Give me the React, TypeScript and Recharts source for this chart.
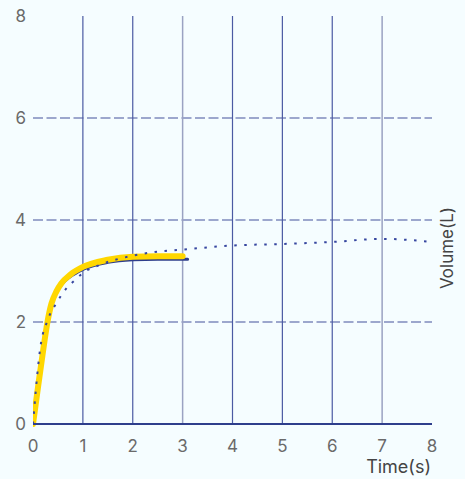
import React from "react";
import { LineChart, Line, XAxis, YAxis, ReferenceLine } from "recharts";

// time (s) values and volume (L) values
const measuredTime = [0, 0.1, 0.2, 0.29, 0.37, 0.47, 0.57, 0.75, 1, 1.5, 2, 2.5, 3];
const measuredVolume = [0, 0.72, 1.42, 2.0, 2.36, 2.6, 2.76, 2.93, 3.08, 3.22, 3.28, 3.29, 3.29];

const fittedTime = [0, 0.1, 0.2, 0.29, 0.37, 0.47, 0.57, 0.75, 1, 1.5, 2, 2.5, 3.1];
const fittedVolume = [0, 0.72, 1.42, 2.0, 2.35, 2.58, 2.73, 2.89, 3.03, 3.17, 3.22, 3.23, 3.23];

const modelTime = [0, 0.11, 0.14, 0.3, 0.47, 0.67, 0.84, 1, 1.34, 2, 2.5, 3, 4, 5, 6, 7, 8];
const modelVolume = [0, 1.2, 1.45, 2.05, 2.37, 2.66, 2.82, 2.96, 3.12, 3.3, 3.38, 3.42, 3.5, 3.53, 3.57, 3.63, 3.57];

const xTicks = [0, 1, 2, 3, 4, 5, 6, 7, 8];
const yTicks = [0, 2, 4, 6, 8];
const darkGridX = [1, 2, 4, 5, 6];
const lightGridX = [3, 7];
const dashedGridY = [2, 4, 6];

const toPoints = (xs: number[], ys: number[]) =>
  xs.map((t, i) => ({ t, v: ys[i] }));

const measured = toPoints(measuredTime, measuredVolume);
const fitted = toPoints(fittedTime, fittedVolume);
const model = toPoints(modelTime, modelVolume);

const FONT = "Inter, 'Open Sans', sans-serif";
const tickStyle = { fontSize: 17, fill: "#6a6a6a", fontFamily: FONT };

export default function App() {
  return (
    <div
      style={{
        position: "absolute",
        left: 0,
        top: 0,
        width: 465,
        height: 479,
        background: "#f5fdff",
        fontFamily: FONT,
      }}
    >
      <LineChart
        width={465}
        height={479}
        margin={{ top: 16, right: 33, bottom: 25, left: 0 }}
      >
        <XAxis
          dataKey="t"
          type="number"
          domain={[0, 8]}
          ticks={xTicks}
          allowDataOverflow
          axisLine={{ stroke: "#2e3e8c", strokeWidth: 2 }}
          tickLine={false}
          tickSize={0}
          tickMargin={16}
          height={30}
          tick={tickStyle}
          interval={0}
        />
        <YAxis
          type="number"
          domain={[0, 8]}
          ticks={yTicks}
          axisLine={false}
          tickLine={false}
          tickSize={0}
          tickMargin={7}
          width={33}
          tick={tickStyle}
          interval={0}
        />
        {dashedGridY.map((y) => (
          <ReferenceLine
            key={"h" + y}
            y={y}
            stroke="#44539c"
            strokeWidth={1.2}
            strokeDasharray="10 3.5"
          />
        ))}
        {darkGridX.map((x) => (
          <ReferenceLine key={"d" + x} x={x} stroke="#4b5aa3" strokeWidth={1.2} />
        ))}
        {lightGridX.map((x) => (
          <ReferenceLine key={"l" + x} x={x} stroke="#9aa2c2" strokeWidth={1.5} />
        ))}
        <Line
          data={fitted}
          dataKey="v"
          type="monotone"
          stroke="#2e3e8c"
          strokeWidth={3}
          strokeLinecap="round"
          dot={false}
          isAnimationActive={false}
        />
        <Line
          data={measured}
          dataKey="v"
          type="monotone"
          stroke="#ffd700"
          strokeWidth={6}
          strokeLinecap="round"
          dot={false}
          isAnimationActive={false}
        />
        <Line
          data={model}
          dataKey="v"
          type="monotone"
          stroke="#3646a0"
          strokeWidth={2}
          strokeDasharray="2.5 7.5"
          dot={false}
          isAnimationActive={false}
        />
      </LineChart>
      <div
        style={{
          position: "absolute",
          right: 34,
          top: 458,
          fontSize: 18,
          color: "#444",
          lineHeight: "18px",
        }}
      >
        Time(s)
      </div>
      <div
        style={{
          position: "absolute",
          left: 447,
          top: 248,
          fontSize: 17,
          color: "#444",
          lineHeight: "20px",
          whiteSpace: "nowrap",
          transform: "translate(-50%, -50%) rotate(-90deg)",
        }}
      >
        Volume(L)
      </div>
    </div>
  );
}
